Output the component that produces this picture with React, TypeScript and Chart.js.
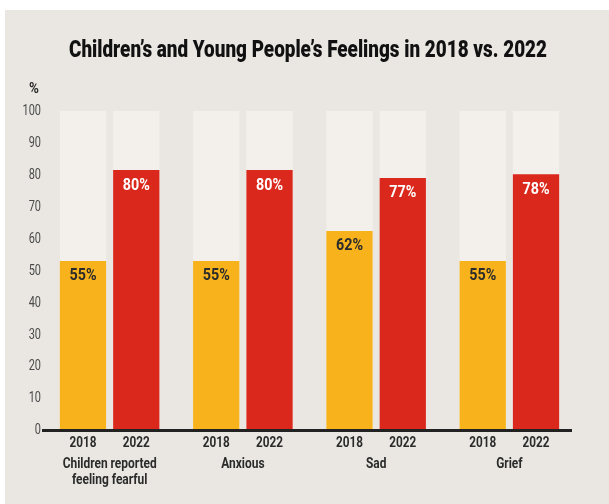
import React, { useEffect, useRef } from "react";
import { Chart, registerables } from "chart.js";

Chart.register(...registerables);

const TITLE = "Children’s and Young People’s Feelings in 2018 vs. 2022";
const UNIT_LABEL = "%";
const categories: string[][] = [["Children reported", "feeling fearful"], ["Anxious"], ["Sad"], ["Grief"]];
const years = ["2018", "2022"];
const values2018 = [53, 53, 62.4, 53];
const values2022 = [81.5, 81.5, 79, 80.2];
const labels2018 = ["55%", "55%", "62%", "55%"];
const labels2022 = ["80%", "80%", "77%", "78%"];
const yMin = 0;
const yMax = 100;
const yStep = 10;

const FONT = "Roboto, 'Liberation Sans', sans-serif";
const PANEL = "#EAE7E3";
const BG_BAR = "#F3F0EB";
const YELLOW = "#F8B31C";
const RED = "#DA291C";
const DARK = "#2B2B2B";

function condensed(ctx: CanvasRenderingContext2D, text: string, x: number, y: number, font: string, color: string, sx: number, align: CanvasTextAlign) {
  ctx.save();
  ctx.font = font;
  ctx.fillStyle = color;
  ctx.textAlign = align;
  ctx.textBaseline = "middle";
  ctx.translate(x, y);
  ctx.scale(sx, 1);
  ctx.fillText(text, 0, 0);
  ctx.restore();
}

function fitScale(ctx: CanvasRenderingContext2D, font: string, sample: string, target: number) {
  ctx.save();
  ctx.font = font;
  const w = ctx.measureText(sample).width;
  ctx.restore();
  return w > 0 ? target / w : 1;
}

export default function App() {
  const ref = useRef<HTMLCanvasElement | null>(null);

  useEffect(() => {
    if (!ref.current) return;
    const barLabels = [labels2018, labels2022];
    const labelColors = [DARK, "#FFFFFF"];

    const decor = {
      id: "decor",
      beforeDatasetsDraw(chart: any) {
        const ctx = chart.ctx;
        const yScale = chart.scales.y;
        ctx.save();
        ctx.fillStyle = BG_BAR;
        [0, 1].forEach((di) => {
          chart.getDatasetMeta(di).data.forEach((bar: any) => {
            const p = bar.getProps(["x", "width", "base"], true);
            const top = yScale.getPixelForValue(yMax);
            ctx.fillRect(p.x - p.width / 2, top, p.width, p.base - top);
          });
        });
        ctx.restore();
      },
      afterDatasetsDraw(chart: any) {
        const ctx: CanvasRenderingContext2D = chart.ctx;
        const area = chart.chartArea;
        const yScale = chart.scales.y;
        const xScale = chart.scales.x;

        ctx.save();
        ctx.strokeStyle = "#222222";
        ctx.lineWidth = 3;
        ctx.beginPath();
        ctx.moveTo(area.left - 1, area.bottom + 0.5);
        ctx.lineTo(area.right - 4, area.bottom + 0.5);
        ctx.stroke();
        ctx.restore();

        const fBar = `bold 16px ${FONT}`;
        const sBar = fitScale(ctx, fBar, "55%", 27);
        const fYear = `bold 15px ${FONT}`;
        const sYear = fitScale(ctx, fYear, "2018", 27);
        const fCat = `bold 15px ${FONT}`;
        const sCat = fitScale(ctx, fCat, "Children reported", 94);
        const fTick = `400 15px ${FONT}`;
        const sTick = fitScale(ctx, fTick, "100", 18.5);
        const fTitle = `900 23px ${FONT}`;
        const sTitle = fitScale(ctx, fTitle, TITLE, 478);

        [0, 1].forEach((di) => {
          chart.getDatasetMeta(di).data.forEach((bar: any, j: number) => {
            const p = bar.getProps(["x", "y"], true);
            condensed(ctx, barLabels[di][j], p.x, p.y + 15.5, fBar, labelColors[di], sBar, "center");
            condensed(ctx, years[di], p.x, area.bottom + 13.5, fYear, DARK, sYear, "center");
          });
        });

        categories.forEach((lines, i) => {
          const cx = xScale.getPixelForValue(i);
          lines.forEach((line, k) => {
            condensed(ctx, line, cx, area.bottom + 34 + k * 16, fCat, DARK, sCat, "center");
          });
        });

        yScale.ticks.forEach((t: any) => {
          const yy = yScale.getPixelForValue(t.value);
          condensed(ctx, String(t.value), area.left - 2, yy + 0.5, fTick, "#4A4A4A", sTick, "right");
        });

        condensed(ctx, TITLE, chart.width / 2 + 1, 41.5, fTitle, "#111111", sTitle, "center");
        condensed(ctx, UNIT_LABEL, 29, 79, `bold 15px ${FONT}`, DARK, sBar, "center");
      },
    };

    const chart = new Chart(ref.current, {
      type: "bar",
      data: {
        labels: categories.map((c) => c.join(" ")),
        datasets: [
          { label: years[0], data: values2018, backgroundColor: YELLOW, categoryPercentage: 0.8, barPercentage: 0.868 },
          { label: years[1], data: values2022, backgroundColor: RED, categoryPercentage: 0.8, barPercentage: 0.868 },
        ],
      },
      options: {
        animation: false,
        responsive: false,
        layout: { padding: { left: 0, right: 33, top: 101, bottom: 0 } },
        plugins: { legend: { display: false }, title: { display: false }, tooltip: { enabled: false } },
        scales: {
          x: {
            grid: { display: false, drawTicks: false },
            border: { display: false },
            ticks: { display: false },
            afterFit(s: any) { s.height = 74; },
          },
          y: {
            min: yMin,
            max: yMax,
            grid: { display: false, drawTicks: false },
            border: { display: false },
            ticks: { stepSize: yStep, display: false },
            afterFit(s: any) { s.width = 38; },
          },
        },
      },
      plugins: [decor],
    } as any);
    return () => chart.destroy();
  }, []);

  return (
    <div style={{ position: "fixed", left: 0, top: 0, width: 609, height: 504, background: "#FFFFFF", overflow: "hidden" }}>
      <div style={{ position: "absolute", left: 5, top: 10, width: 604, height: 494, background: PANEL }}>
        <canvas ref={ref} width={604} height={494} style={{ display: "block", width: 604, height: 494 }} />
      </div>
    </div>
  );
}
